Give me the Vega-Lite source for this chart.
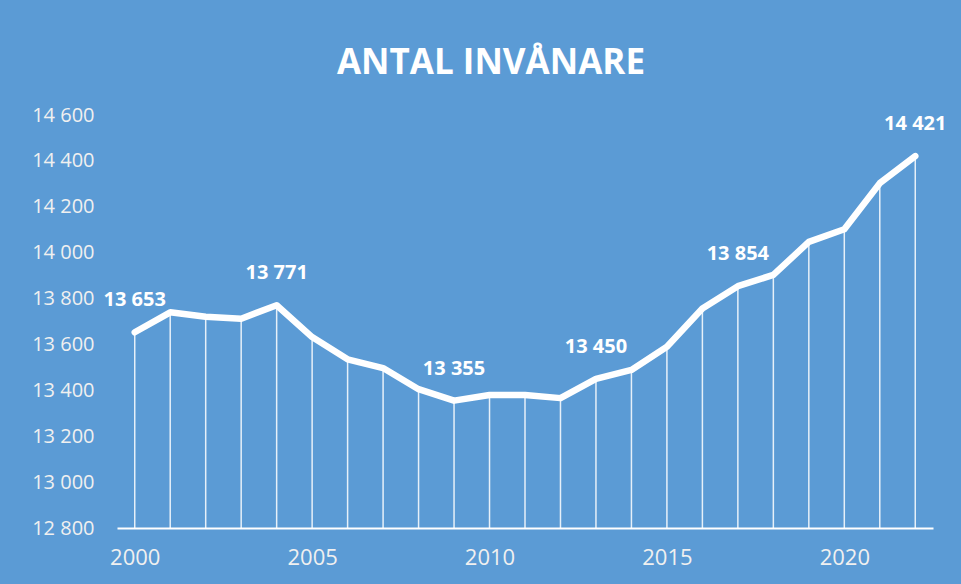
{
  "$schema": "https://vega.github.io/schema/vega-lite/v6.json",
  "width": 816,
  "height": 413,
  "autosize": {"type": "none"},
  "padding": {"left": 117, "top": 115, "right": 28, "bottom": 56},
  "background": "#5B9BD5",
  "config": {
    "view": {"stroke": null},
    "font": "Open Sans",
    "locale": {"number": {"decimal": ",", "thousands": " ", "grouping": [3], "currency": ["", " kr"]}}
  },
  "title": {
    "text": "ANTAL INVÅNARE",
    "color": "white",
    "fontSize": 35,
    "fontWeight": "bold",
    "font": "Open Sans",
    "anchor": "middle",
    "frame": "group",
    "dx": -34,
    "offset": 24
  },
  "data": {
    "values": [
      {"year": 2000, "value": 13653, "labeled": true},
      {"year": 2001, "value": 13740, "labeled": false},
      {"year": 2002, "value": 13721, "labeled": false},
      {"year": 2003, "value": 13712, "labeled": false},
      {"year": 2004, "value": 13771, "labeled": true},
      {"year": 2005, "value": 13632, "labeled": false},
      {"year": 2006, "value": 13535, "labeled": false},
      {"year": 2007, "value": 13497, "labeled": false},
      {"year": 2008, "value": 13405, "labeled": false},
      {"year": 2009, "value": 13355, "labeled": true},
      {"year": 2010, "value": 13380, "labeled": false},
      {"year": 2011, "value": 13380, "labeled": false},
      {"year": 2012, "value": 13366, "labeled": false},
      {"year": 2013, "value": 13450, "labeled": true},
      {"year": 2014, "value": 13489, "labeled": false},
      {"year": 2015, "value": 13590, "labeled": false},
      {"year": 2016, "value": 13757, "labeled": false},
      {"year": 2017, "value": 13854, "labeled": true},
      {"year": 2018, "value": 13903, "labeled": false},
      {"year": 2019, "value": 14047, "labeled": false},
      {"year": 2020, "value": 14102, "labeled": false},
      {"year": 2021, "value": 14303, "labeled": false},
      {"year": 2022, "value": 14421, "labeled": true}
    ]
  },
  "encoding": {
    "x": {
      "field": "year",
      "type": "quantitative",
      "scale": {"domain": [1999.5, 2022.5], "nice": false, "zero": false},
      "axis": {
        "values": [2000, 2005, 2010, 2015, 2020],
        "format": "d",
        "title": null,
        "grid": false,
        "ticks": false,
        "domainColor": "white",
        "domainWidth": 2,
        "labelColor": "#F0F0F0",
        "labelFontSize": 22,
        "labelFont": "Open Sans",
        "labelPadding": 19,
        "labelOverlap": false,
        "labelFlush": false
      }
    },
    "y": {
      "field": "value",
      "type": "quantitative",
      "scale": {"domain": [12800, 14600], "nice": false, "zero": false},
      "axis": {
        "values": [12800, 13000, 13200, 13400, 13600, 13800, 14000, 14200, 14400, 14600],
        "format": ",d",
        "title": null,
        "grid": false,
        "ticks": false,
        "domain": false,
        "labelColor": "#F0F0F0",
        "labelFontSize": 20,
        "labelFont": "Open Sans",
        "labelPadding": 23,
        "labelOverlap": false,
        "labelFlush": false
      }
    }
  },
  "layer": [
    {
      "mark": {"type": "rule", "color": "white", "strokeWidth": 1.5, "opacity": 0.85},
      "encoding": {"y2": {"datum": 12800}}
    },
    {
      "mark": {"type": "line", "color": "white", "strokeWidth": 6.5, "strokeJoin": "round", "strokeCap": "round"},
      "encoding": {}
    },
    {
      "transform": [{"filter": "datum.labeled"}],
      "mark": {"type": "text", "color": "white", "fontSize": 20, "fontWeight": "bold", "font": "Open Sans", "dy": -32, "baseline": "middle", "align": "center"},
      "encoding": {"text": {"field": "value", "type": "quantitative", "format": ",d"}}
    }
  ]
}
